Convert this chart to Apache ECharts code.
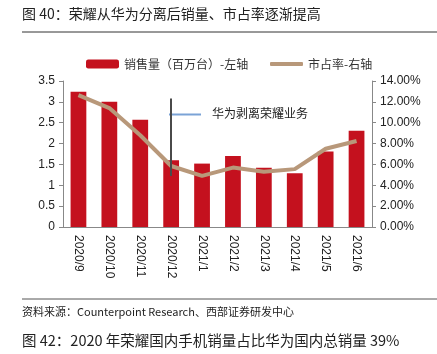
<!DOCTYPE html>
<html>
<head>
<meta charset="utf-8">
<script src="https://cdn.jsdelivr.net/npm/echarts@6/dist/echarts.min.js"></script>
<style>
  html, body { margin: 0; padding: 0; background: #fff; }
  #chart { width: 437px; height: 354px; }
</style>
</head>
<body>
<div id="chart"></div>
<script>
// 月份
const months = ['2020/9', '2020/10', '2020/11', '2020/12', '2021/1', '2021/2', '2021/3', '2021/4', '2021/5', '2021/6']
// 销量（百万台）
const sales = [3.24, 3.0, 2.57, 1.6, 1.52, 1.7, 1.42, 1.29, 1.81, 2.31]
// 市占率（%）
const share = [12.65, 11.4, 8.8, 5.85, 4.9, 5.7, 5.3, 5.55, 7.5, 8.25]

const chart = echarts.init(document.getElementById('chart'))
const cn = '"Noto Sans CJK SC", sans-serif'
const num = '"Liberation Sans", Arial, sans-serif'
const legendText = { fontFamily: cn, fontSize: 12, color: '#333' }

chart.setOption({
  animation: false,
  grid: { left: 63, right: 65, top: 81, bottom: 127 },
  // 两个图例分开放，方便设置不同图标高度
  legend: [
    {
      top: 58, left: 86, padding: 0,
      itemWidth: 33, itemHeight: 9, itemGap: 4,
      textStyle: legendText,
      data: [{ name: '销售量（百万台）-左轴', icon: 'roundRect' }]
    },
    {
      top: 58, left: 270, padding: 0,
      itemWidth: 33, itemHeight: 4,
      textStyle: legendText,
      data: [{ name: '市占率-右轴', icon: 'roundRect' }]
    }
  ],
  xAxis: {
    type: 'category',
    data: months,
    axisLine: { lineStyle: { color: '#888' } },
    axisTick: { show: false },
    axisLabel: { rotate: -90, fontFamily: num, fontSize: 12, color: '#222', margin: 8 }
  },
  yAxis: [
    {
      type: 'value', min: 0, max: 3.5, interval: 0.5,
      splitLine: { show: false },
      axisLine: { show: true, lineStyle: { color: '#888' } },
      axisTick: { show: true, length: 4, lineStyle: { color: '#888' } },
      axisLabel: { fontFamily: num, fontSize: 12, color: '#222', margin: 8 }
    },
    {
      type: 'value', min: 0, max: 14, interval: 2,
      splitLine: { show: false },
      axisLine: { show: true, lineStyle: { color: '#888' } },
      axisTick: { show: true, length: 4, lineStyle: { color: '#888' } },
      axisLabel: { fontFamily: num, fontSize: 12, color: '#222', margin: 8, formatter: v => v.toFixed(2) + '%' }
    }
  ],
  series: [
    {
      name: '销售量（百万台）-左轴',
      type: 'bar',
      barWidth: '51%',
      itemStyle: { color: '#C4111E' },
      data: sales,
      markLine: {
        symbol: 'none', silent: true,
        label: { show: false },
        lineStyle: { color: '#4a4a4a', width: 2, type: 'solid' },
        data: [[{ coord: ['2020/12', 3.08] }, { coord: ['2020/12', 1.22] }]]
      }
    },
    {
      name: '市占率-右轴',
      type: 'line',
      yAxisIndex: 1,
      symbol: 'none',
      lineStyle: { color: '#B8987A', width: 4 },
      itemStyle: { color: '#B8987A' },
      data: share
    }
  ],
  graphic: [
    { type: 'text', left: 22, top: 7, style: { text: '图 40：荣耀从华为分离后销量、市占率逐渐提高', font: '14px ' + cn, fill: '#222' } },
    { type: 'line', shape: { x1: 22, y1: 32, x2: 437, y2: 32 }, style: { stroke: '#333', lineWidth: 1 } },
    { type: 'line', shape: { x1: 169, y1: 114.5, x2: 201, y2: 114.5 }, style: { stroke: '#7BA3D6', lineWidth: 2 } },
    { type: 'text', left: 212, top: 107, style: { text: '华为剥离荣耀业务', font: '12px ' + cn, fill: '#222' } },
    { type: 'line', shape: { x1: 22, y1: 299, x2: 437, y2: 299 }, style: { stroke: '#555', lineWidth: 1 } },
    { type: 'text', left: 22, top: 306, style: { text: '资料来源：Counterpoint Research、西部证券研发中心', font: '11px ' + cn, fill: '#222' } },
    { type: 'text', left: 22, top: 333, style: { text: '图 42：2020 年荣耀国内手机销量占比华为国内总销量 39%', font: '14.5px ' + cn, fill: '#222' } }
  ]
})
</script>
</body>
</html>
